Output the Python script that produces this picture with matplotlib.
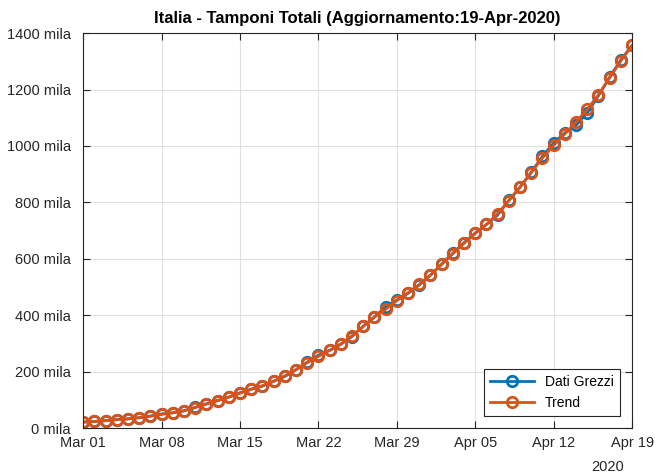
import matplotlib
matplotlib.use('Agg')
import matplotlib.pyplot as plt
import matplotlib.dates as mdates
import numpy as np
import pandas as pd

plt.rcParams['font.family'] = ['Liberation Sans', 'DejaVu Sans']

dates = pd.date_range('2020-03-01', '2020-04-19', freq='D')
raw = [21127, 23345, 25856, 29837, 32362, 36359, 42062, 49937, 53826, 60761,
       73154, 86011, 97488, 109170, 124899, 137962, 148657, 165541, 182777, 206886,
       233222, 258402, 275468, 296964, 324445, 361060, 394079, 429526, 454030, 477359,
       506968, 541314, 581232, 619849, 657224, 691461, 721732, 755445, 807125, 853369,
       906864, 963473, 1010193, 1046910, 1073689, 1117404, 1178403, 1244108, 1305833, 1356541]
trend = [21000, 23500, 26000, 29500, 32500, 37000, 42000, 48500, 54000, 61500,
         72500, 85000, 97500, 110000, 123500, 137000, 150000, 166000, 185000, 207000,
         232000, 254000, 275000, 298000, 327000, 360000, 393000, 421000, 452000, 480000,
         509000, 543000, 580000, 618000, 655000, 690000, 722000, 760000, 806000, 855000,
         906000, 958000, 1002000, 1043000, 1085000, 1130000, 1182000, 1242000, 1302000, 1356541]
yticks = [0, 200000, 400000, 600000, 800000, 1000000, 1200000, 1400000]

fig = plt.figure(figsize=(6.55, 4.74), dpi=100)
ax = fig.add_axes([0.127, 0.097, 0.838, 0.833])

ax.plot(dates, raw, '-o', color='#0072BD', lw=2, ms=7.5, mfc='none', mew=2, label='Dati Grezzi')
ax.plot(dates, trend, '-o', color='#D95319', lw=2, ms=7.5, mfc='none', mew=2, label='Trend')

ax.set_xlim(dates[0], dates[-1])
ax.set_ylim(0, 1400000)
ax.set_yticks(yticks)
ax.set_yticklabels([f'{v // 1000} mila' for v in yticks])
ax.set_xticks(dates[::7])
ax.xaxis.set_major_formatter(mdates.DateFormatter('%b %d'))

ax.grid(True, color='#e0e0e0', lw=0.8)
ax.set_axisbelow(True)
ax.tick_params(direction='in', top=True, right=True, labelsize=10.5, colors='#262626', length=5)
ax.tick_params(axis='x', pad=6)
ax.tick_params(axis='y', pad=9)
for s in ax.spines.values():
    s.set_color('#262626')
    s.set_linewidth(0.8)

ax.set_title('Italia - Tamponi Totali (Aggiornamento:19-Apr-2020)', fontsize=12, fontweight='bold', pad=7)
fig.text(0.927, 0.0, '2020', fontsize=10.5, color='#262626', ha='center', va='bottom')

leg = ax.legend(loc='lower right', fontsize=10, fancybox=False, framealpha=1,
                edgecolor='#262626', borderaxespad=0.9, handlelength=3.2)
leg.get_frame().set_linewidth(0.8)

fig.savefig('out.png', dpi=100)
